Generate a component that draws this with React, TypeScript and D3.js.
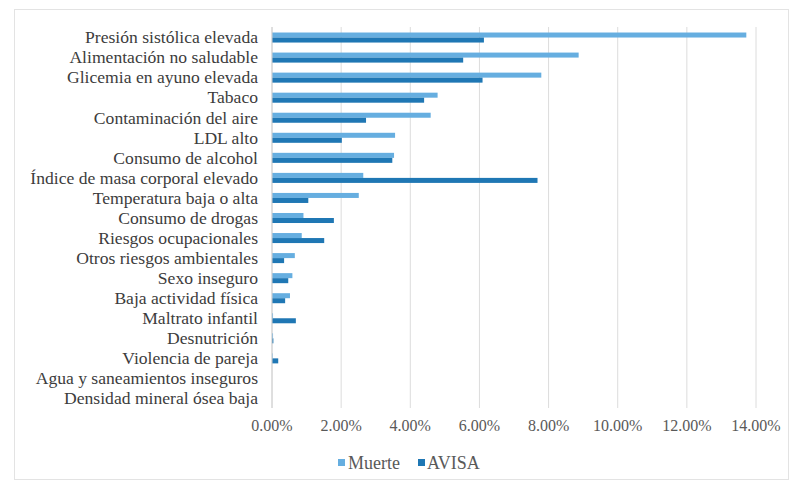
import React from "react";
import * as d3 from "d3";

const categories = [
  "Presión sistólica elevada",
  "Alimentación no saludable",
  "Glicemia en ayuno elevada",
  "Tabaco",
  "Contaminación del aire",
  "LDL alto",
  "Consumo de alcohol",
  "Índice de masa corporal elevado",
  "Temperatura baja o alta",
  "Consumo de drogas",
  "Riesgos ocupacionales",
  "Otros riesgos ambientales",
  "Sexo inseguro",
  "Baja actividad física",
  "Maltrato infantil",
  "Desnutrición",
  "Violencia de pareja",
  "Agua y saneamientos inseguros",
  "Densidad mineral ósea baja",
];

const muerte = [
  0.1372, 0.0887, 0.0779, 0.0479, 0.0459, 0.0356, 0.0353, 0.0264, 0.0251, 0.0091,
  0.0086, 0.0066, 0.0059, 0.0052, 0.0003, 0.0003, 0.0002, 0.0, 0.0,
];

const avisa = [
  0.0613, 0.0553, 0.0609, 0.044, 0.0272, 0.0202, 0.0348, 0.0768, 0.0105, 0.0179,
  0.0151, 0.0035, 0.0047, 0.0038, 0.0069, 0.0004, 0.0018, 0.0, 0.0,
];

const xTicks = [0, 0.02, 0.04, 0.06, 0.08, 0.1, 0.12, 0.14];
const seriesNames = ["Muerte", "AVISA"];
const colors = ["#66aee0", "#1f77b4"];

const serif = { fontFamily: "\"Liberation Serif\", \"DejaVu Serif\", serif" };

export default function App() {
  const W = 793;
  const H = 486;
  const x = d3.scaleLinear().domain([0, 0.14]).range([272, 756]);
  const y = d3.scaleBand<string>().domain(categories).range([27.5, 408.5]).paddingInner(0.5).paddingOuter(0.25);
  const sub = d3.scaleBand<string>().domain(seriesNames).range([0, y.bandwidth()]);
  const fmt = d3.format(".2%");
  const series = [muerte, avisa];

  return (
    <div style={{ position: "absolute", left: 0, top: 0 }}>
      <svg width={W} height={H} style={{ display: "block", background: "#fff" }}>
        <rect x={14.5} y={9.5} width={774} height={470} fill="#fff" stroke="#e3e3e3" />
        {xTicks.map((t) => (
          <line key={t} x1={x(t)} x2={x(t)} y1={27} y2={408} stroke="#dcdcdc" strokeWidth={1} />
        ))}
        {series.map((vals, si) =>
          categories.map((c, i) => (
            <rect
              key={si + "-" + c}
              x={x(0)}
              y={(y(c) as number) + (sub(seriesNames[si]) as number)}
              width={Math.max(0, x(vals[i]) - x(0))}
              height={sub.bandwidth()}
              fill={colors[si]}
            />
          ))
        )}
        <line x1={x(0)} x2={x(0)} y1={27} y2={408} stroke="#d0d0d0" />
        {categories.map((c) => (
          <text
            key={c}
            x={258}
            y={(y(c) as number) + y.bandwidth() / 2}
            dy="0.33em"
            textAnchor="end"
            fontSize={17.6}
            fill="#3c3c3c"
            style={serif}
          >
            {c}
          </text>
        ))}
        {xTicks.map((t) => (
          <text key={"l" + t} x={x(t)} y={431} textAnchor="middle" fontSize={16} fill="#595959" style={serif}>
            {fmt(t)}
          </text>
        ))}
        <g>
          <rect x={338} y={459} width={7} height={7} fill={colors[0]} />
          <text x={348} y={469} fontSize={18} fill="#595959" style={serif}>Muerte</text>
          <rect x={418} y={459} width={7} height={7} fill={colors[1]} />
          <text x={427} y={469} fontSize={18} fill="#595959" style={serif}>AVISA</text>
        </g>
      </svg>
    </div>
  );
}
